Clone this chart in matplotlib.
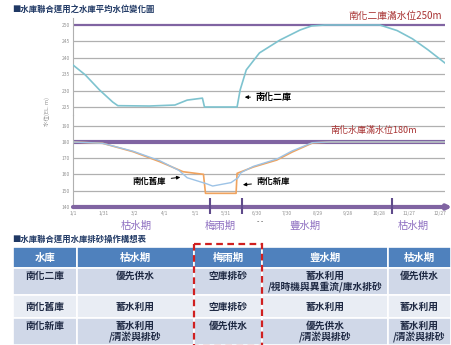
import matplotlib
matplotlib.use("Agg")
import matplotlib.pyplot as plt
from matplotlib.patches import Rectangle

plt.rcParams['font.family'] = ['Noto Sans CJK TC', 'DejaVu Sans']

# ---- datos: niveles de embalse (día del año, cota m) ----
dias_segundo = [0, 12, 26, 39, 44, 75, 100, 112, 127, 129, 161, 164, 170, 183, 203, 223, 234, 247, 301, 318, 333, 348, 365]
cota_segundo = [237.8, 234.8, 230.2, 226.5, 225.4, 225.3, 225.6, 227.1, 227.7, 225.0, 225.0, 230.2, 236.3, 241.5,
                245.4, 248.5, 249.7, 250.0, 250.0, 248.3, 245.8, 242.5, 238.4]

dias_nuevo = [0, 29, 59, 85, 108, 128, 130, 160, 161, 177, 200, 215, 235, 252, 365]
cota_nuevo = [180, 179.2, 174, 167.9, 161.7, 160.1, 148.4, 148.4, 160.7, 164.6, 168.9, 173.8, 179.4, 180, 180]

dias_viejo = [0, 29, 59, 85, 104, 112, 131, 137, 155, 162, 165, 177, 200, 215, 235, 252, 365]
cota_viejo = [180, 179.2, 174.3, 168.5, 162.5, 158.0, 154.3, 152.9, 155.0, 158.0, 161.2, 165.0, 169.5, 174.5,
              179.6, 180, 180]

xticks = [0, 30, 60, 90, 120, 150, 180, 210, 240, 270, 300, 330, 360]
xtick_labels = ["1/1", "1/31", "3/2", "4/1", "5/1", "5/31", "6/30", "7/30", "8/29", "9/28", "10/28", "11/27", "12/27"]
limites_periodo = [134, 166, 313]
periodos = ["枯水期", "梅雨期", "豐水期", "枯水期"]
centro_periodo = [62, 144, 228, 334]

cabecera = ["水庫", "枯水期", "梅雨期", "豐水期", "枯水期"]
tabla = [
    ["南化二庫", "優先供水", "空庫排砂", "蓄水利用\n/視時機與異重流/庫水排砂", "優先供水"],
    ["南化舊庫", "蓄水利用", "空庫排砂", "蓄水利用", "蓄水利用"],
    ["南化新庫", "蓄水利用\n/清淤與排砂", "優先供水", "優先供水\n/清淤與排砂", "蓄水利用\n/清淤與排砂"],
]

W, H = 451, 345
fig = plt.figure(figsize=(W / 100, H / 100), dpi=100)

def caja(l, t, r, b):
    return [l / W, 1 - b / H, (r - l) / W, (b - t) / H]

# fondo en pixeles para titulos y tabla
bg = fig.add_axes([0, 0, 1, 1])
bg.set_xlim(0, W)
bg.set_ylim(H, 0)
bg.axis('off')

azul_txt = '#1f3864'
bg.text(12, 9, "■水庫聯合運用之水庫平均水位變化圖", fontsize=6, color=azul_txt, va='center', fontweight='bold')
bg.text(12, 239, "■水庫聯合運用水庫排砂操作構想表", fontsize=6, color=azul_txt, va='center', fontweight='bold')

# tabla
cols = [13, 77, 194, 262, 388, 451]
filas = [247, 268, 295, 318, 345]
colores = ['#4f81bd', '#d0d8e8', '#e9edf4', '#d0d8e8']
for i in range(4):
    for j in range(5):
        bg.add_patch(Rectangle((cols[j], filas[i]), cols[j + 1] - cols[j], filas[i + 1] - filas[i],
                               facecolor=colores[i], edgecolor='white', lw=1.2))
for j in range(5):
    cx = (cols[j] + cols[j + 1]) / 2
    bg.text(cx, 257.5, cabecera[j], ha='center', va='center', color='white', fontsize=7.5, fontweight='bold')
for i, fila in enumerate(tabla):
    for j, txt in enumerate(fila):
        cx = (cols[j] + cols[j + 1]) / 2
        if i == 1:
            y = (filas[i + 1] + filas[i + 2]) / 2
            va = 'center'
        else:
            y = filas[i + 1] + 3
            va = 'top'
        bg.text(cx, y, txt, ha='center', va=va, color='#1f2a44', fontsize=7, fontweight='bold',
                linespacing=1.05)
bg.add_patch(Rectangle((194, 244), 68, 102, fill=False, edgecolor='#d02020', lw=1.6, ls=(0, (3, 2))))

# grafico superior: segundo embalse
ax1 = fig.add_axes(caja(73, 18, 445, 115))
ax1.set_facecolor('none')
ax1.set_xlim(0, 365)
ax1.set_ylim(222.56, 252.13)
for v in [225, 230, 235, 240, 245]:
    ax1.axhline(v, color='#b0b0b0', lw=0.9, zorder=1)
ax1.axhline(250, color='#8064a2', lw=1.6, zorder=2)
ax1.plot(dias_segundo, cota_segundo, color='#7ec3cf', lw=1.2, zorder=3)
ax1.set_yticks([225, 230, 235, 240, 245, 250])
ax1.set_xticks([])
ax1.text(362, 251.3, "南化二庫滿水位250m", ha='right', va='bottom', color='#a83232', fontsize=7)
ax1.annotate("南化二庫", xy=(165.8, 228.0), xytext=(179.5, 228.0), va='center', ha='left',
             fontsize=6.5, fontweight='bold',
             arrowprops=dict(arrowstyle='-|>', color='black', lw=0.7, mutation_scale=5))

# grafico inferior: embalse principal
ax2 = fig.add_axes(caja(73, 115, 445, 208))
ax2.set_facecolor('none')
ax2.set_xlim(0, 365)
ax2.set_ylim(139.38, 196.6)
for v in [150, 160, 170, 190]:
    ax2.axhline(v, color='#b0b0b0', lw=0.9, zorder=1)
ax2.axhline(180, color='#8064a2', lw=3, zorder=2)
ax2.plot(dias_nuevo, cota_nuevo, color='#f0a35e', lw=1.2, zorder=3)
ax2.plot(dias_viejo, cota_viejo, color='#9dc3e6', lw=1.0, zorder=4)
ax2.annotate("", xy=(372, 140), xytext=(0, 140), annotation_clip=False,
             arrowprops=dict(arrowstyle='-|>', color='#8064a2', lw=3, mutation_scale=6,
                             shrinkA=0, shrinkB=0))
ax2.vlines(limites_periodo, 135.7, 145.5, color='#5f4b8b', lw=1.5, clip_on=False, zorder=5)
for nombre, xc in zip(periodos, centro_periodo):
    ax2.text(xc, 128.3, nombre, ha='center', va='center', color='#8e6fc1', fontsize=7.5)
ax2.text(183.5, 131, "- -", ha='center', va='center', color='#333333', fontsize=5)
ax2.text(338, 184.5, "南化水庫滿水位180m", ha='right', va='bottom', color='#a83232', fontsize=6.5)
ax2.annotate("南化舊庫", xy=(108, 158.5), xytext=(91, 156.0), va='center', ha='right',
             fontsize=6, fontweight='bold',
             arrowprops=dict(arrowstyle='-|>', color='black', lw=0.7, mutation_scale=5))
ax2.annotate("南化新庫", xy=(164, 153.5), xytext=(180.5, 155.4), va='center', ha='left',
             fontsize=6, fontweight='bold',
             arrowprops=dict(arrowstyle='-|>', color='black', lw=0.7, mutation_scale=5))
ax2.set_yticks([140, 150, 160, 170, 180, 190])
ax2.set_xticks(xticks)
ax2.set_xticklabels(xtick_labels)

for ax in (ax1, ax2):
    for s in ('top', 'right', 'bottom'):
        ax.spines[s].set_visible(False)
    ax.spines['left'].set_color('#b0b0b0')
    ax.tick_params(length=0, labelsize=3.5, labelcolor='#909090', pad=2)

fig.text(47 / W, 1 - 112 / H, "水位(EL. m)", rotation=90, ha='center', va='center', fontsize=4, color='#909090')

fig.savefig("out.png", dpi=100)
